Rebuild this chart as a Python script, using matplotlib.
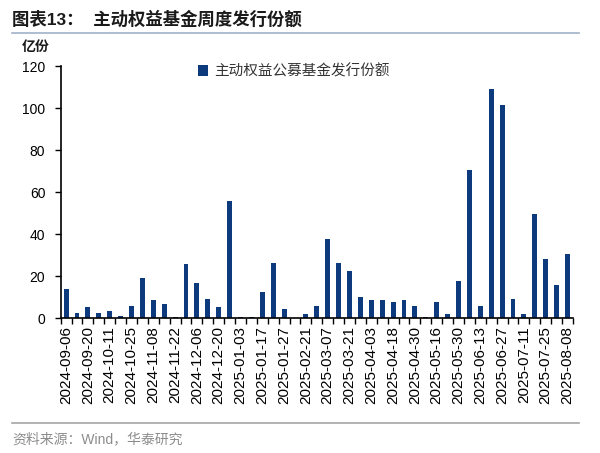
import matplotlib
matplotlib.use("Agg")
import matplotlib.pyplot as plt
import numpy as np

plt.rcParams['font.family'] = ['Liberation Sans', 'Noto Sans CJK SC', 'DejaVu Sans']

# 周度日期（每两周标注一次）
dates = [
    "2024-09-06", "2024-09-13", "2024-09-20", "2024-09-27", "2024-10-11", "2024-10-18",
    "2024-10-25", "2024-11-01", "2024-11-08", "2024-11-15", "2024-11-22", "2024-11-29",
    "2024-12-06", "2024-12-13", "2024-12-20", "2024-12-27", "2025-01-03", "2025-01-10",
    "2025-01-17", "2025-01-24", "2025-01-27", "2025-02-14", "2025-02-21", "2025-02-28",
    "2025-03-07", "2025-03-14", "2025-03-21", "2025-03-28", "2025-04-03", "2025-04-11",
    "2025-04-18", "2025-04-25", "2025-04-30", "2025-05-09", "2025-05-16", "2025-05-23",
    "2025-05-30", "2025-06-06", "2025-06-13", "2025-06-20", "2025-06-27", "2025-07-04",
    "2025-07-11", "2025-07-18", "2025-07-25", "2025-08-01", "2025-08-08",
]
# 主动权益公募基金发行份额（亿份）
shares = [
    14.0, 2.5, 5.1, 2.5, 3.5, 1.1, 5.9, 19.0, 8.4, 6.8, 0.6, 25.6,
    16.7, 9.2, 5.1, 55.9, 0.5, 0.6, 12.5, 26.3, 4.3, 0.0, 2.0, 5.9,
    37.8, 26.3, 22.4, 10.0, 8.4, 8.4, 7.6, 8.4, 5.9, 0.6, 7.6, 1.9,
    17.5, 70.6, 5.9, 108.9, 101.6, 9.2, 1.9, 49.4, 27.9, 15.9, 30.5,
]
yticks = [0, 20, 40, 60, 80, 100, 120]

BAR = "#0C3A7C"

fig = plt.figure(figsize=(6.0, 4.53), dpi=100)
ax = fig.add_axes([0.101, 0.298, 0.854, 0.556])

x = np.arange(len(dates))
ax.bar(x, shares, width=0.45, color=BAR, label="主动权益公募基金发行份额")

ax.set_xlim(-0.5, len(dates) - 0.5)
ax.set_ylim(0, 120)
ax.set_yticks(yticks)
ax.tick_params(axis='y', direction='out', length=4, width=1, labelsize=10, pad=7)

# 主刻度只放标签，次刻度画在柱子之间
ax.set_xticks(x[::2])
ax.set_xticklabels(dates[::2], rotation=90, fontsize=11)
ax.tick_params(axis='x', which='major', length=0, pad=6)
ax.set_xticks(np.arange(len(dates) + 1) - 0.5, minor=True)
ax.tick_params(axis='x', which='minor', direction='out', length=4, width=1)

for s in ["top", "right"]:
    ax.spines[s].set_visible(False)
ax.spines["left"].set_linewidth(1.2)
ax.spines["bottom"].set_linewidth(1.2)

leg = ax.legend(loc='upper center', bbox_to_anchor=(0.455, 1.06), frameon=False,
                fontsize=10.5, handlelength=0.7, handleheight=0.7, handletextpad=0.4)
for t in leg.get_texts():
    t.set_color("#333333")

fig.text(0.02, 0.945, "图表13：  主动权益基金周度发行份额", fontsize=12.5,
         fontweight='bold', color="#1a1a1a", va='baseline')
fig.add_artist(plt.Line2D([0.02, 0.965], [0.927, 0.927], color="#9FB1C8", lw=1.2))
fig.text(0.037, 0.888, "亿份", fontsize=10, fontweight='bold', color="#1a1a1a", va='baseline')
fig.add_artist(plt.Line2D([0.02, 0.965], [0.066, 0.066], color="#A6A6A6", lw=1.2))
fig.text(0.02, 0.022, "资料来源：Wind，华泰研究", fontsize=10, color="#8C8C8C", va='baseline')

fig.savefig("out.png", dpi=100)
